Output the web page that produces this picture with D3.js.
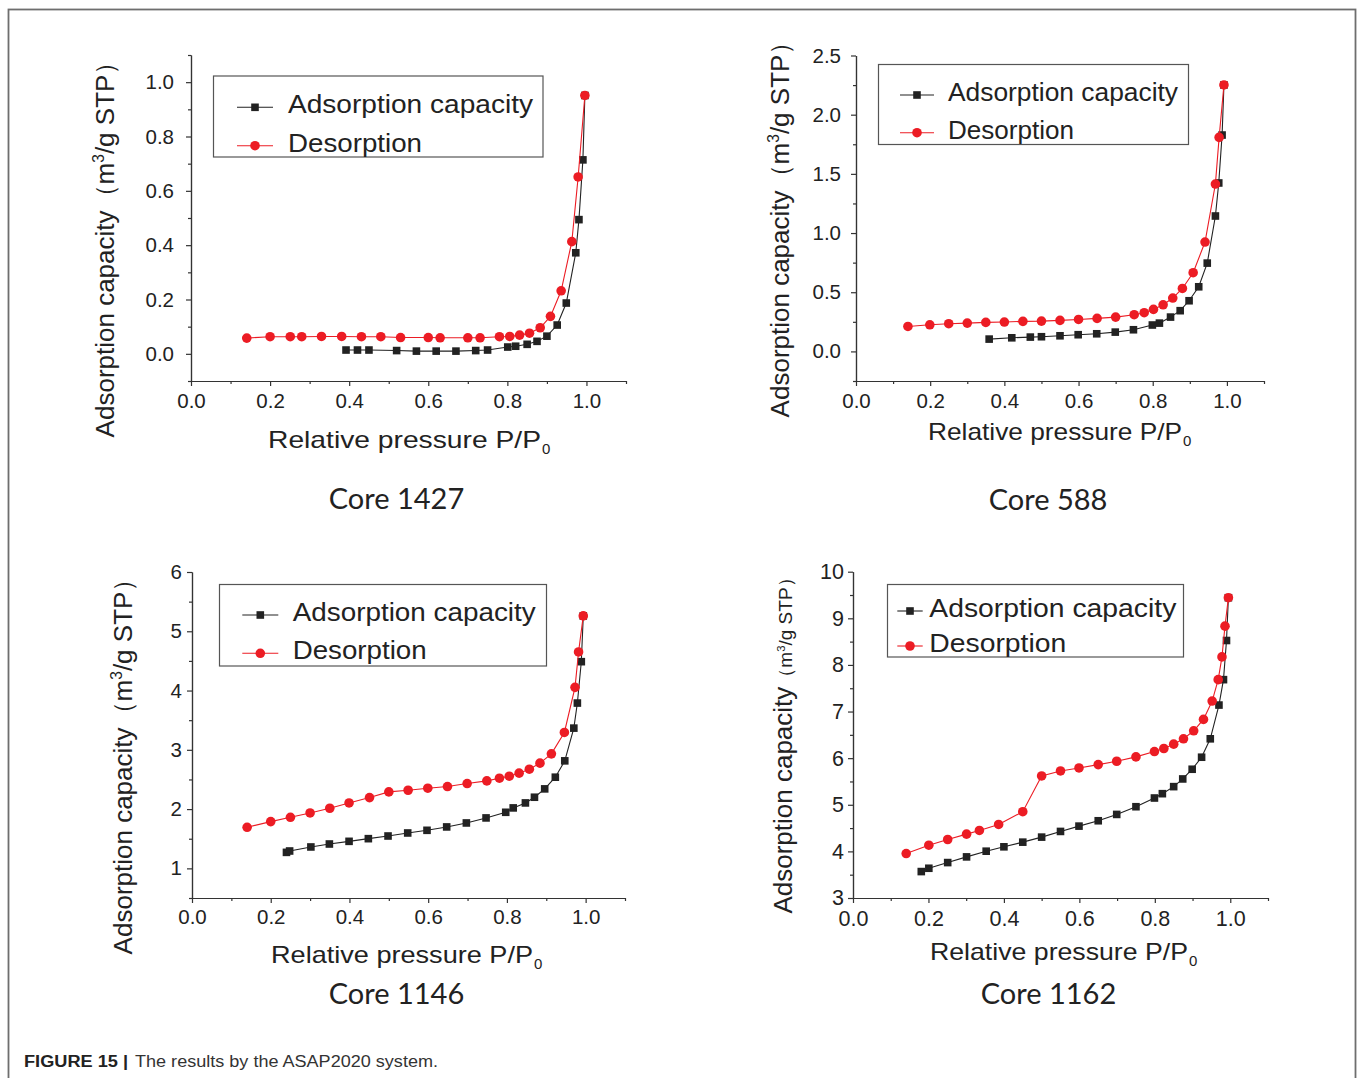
<!DOCTYPE html>
<html lang="en">
<head>
<meta charset="UTF-8">
<title>ASAP2020 isotherms</title>
<script src="https://d3js.org/d3.v7.min.js"></script>
<style>
  body { margin: 0; background: #fff; }
  svg { display: block; font-family: "Liberation Sans", Arial, sans-serif; }
  .axis path, .axis line { stroke: #333; stroke-width: 1.2px; }
  .axis text { fill: #222; font-family: "Liberation Sans", Arial, sans-serif; }
</style>
</head>
<body>
<svg width="1357" height="1078"></svg>
<script>
// values: relative pressure P/P0 and capacity (m3/g STP)
const seriesNames = ["Adsorption capacity", "Desorption"];
const titles = ["Core 1427", "Core 588", "Core 1146", "Core 1162"];

const pressureTicks = [0, 0.2, 0.4, 0.6, 0.8, 1.0];
const pressureMinor = [0.1, 0.3, 0.5, 0.7, 0.9, 1.1];

const core1427Ticks = [0, 0.2, 0.4, 0.6, 0.8, 1.0];
const core1427Minor = [-0.1, 0.1, 0.3, 0.5, 0.7, 0.9, 1.1];
const core588Ticks = [0, 0.5, 1.0, 1.5, 2.0, 2.5];
const core588Minor = [-0.25, 0.25, 0.75, 1.25, 1.75, 2.25];
const core1146Ticks = [1, 2, 3, 4, 5, 6];
const core1146Minor = [0.5, 1.5, 2.5, 3.5, 4.5, 5.5];
const core1162Ticks = [3, 4, 5, 6, 7, 8, 9, 10];
const core1162Minor = [3.5, 4.5, 5.5, 6.5, 7.5, 8.5, 9.5];

const core1427AdsP = [0.392,0.421,0.450,0.520,0.570,0.620,0.670,0.720,0.750,0.801,0.821,0.850,0.875,0.900,0.926,0.949,0.973,0.981,0.991,0.996];
const core1427AdsV = [0.014,0.014,0.014,0.012,0.010,0.010,0.010,0.012,0.014,0.025,0.028,0.035,0.046,0.065,0.106,0.187,0.372,0.494,0.714,0.951];
const core1427DesP = [0.141,0.200,0.251,0.280,0.330,0.381,0.431,0.480,0.530,0.600,0.630,0.700,0.731,0.780,0.806,0.831,0.856,0.883,0.909,0.936,0.963,0.979,0.996];
const core1427DesV = [0.058,0.063,0.063,0.063,0.064,0.064,0.063,0.063,0.060,0.060,0.059,0.059,0.059,0.063,0.064,0.069,0.076,0.096,0.138,0.232,0.413,0.651,0.951];

const core588AdsP = [0.359,0.420,0.470,0.500,0.550,0.599,0.649,0.699,0.748,0.799,0.818,0.848,0.874,0.898,0.924,0.947,0.969,0.978,0.987,0.992];
const core588AdsV = [0.104,0.115,0.121,0.124,0.132,0.141,0.149,0.163,0.183,0.223,0.239,0.290,0.344,0.428,0.546,0.746,1.144,1.423,1.828,2.251];
const core588DesP = [0.140,0.199,0.250,0.300,0.350,0.400,0.450,0.500,0.550,0.600,0.650,0.700,0.750,0.777,0.802,0.828,0.854,0.880,0.909,0.941,0.969,0.979,0.992];
const core588DesV = [0.211,0.225,0.234,0.239,0.245,0.248,0.254,0.256,0.262,0.270,0.279,0.290,0.310,0.327,0.355,0.394,0.451,0.532,0.665,0.924,1.414,1.808,2.251];

const core1146AdsP = [0.240,0.248,0.302,0.349,0.399,0.448,0.498,0.548,0.597,0.647,0.697,0.747,0.797,0.816,0.847,0.870,0.896,0.923,0.947,0.970,0.979,0.989,0.994];
const core1146AdsV = [1.270,1.293,1.361,1.411,1.456,1.501,1.546,1.597,1.642,1.699,1.766,1.851,1.946,2.020,2.104,2.200,2.341,2.538,2.814,3.366,3.789,4.487,5.259];
const core1146DesP = [0.140,0.200,0.250,0.300,0.350,0.399,0.451,0.500,0.549,0.599,0.649,0.699,0.749,0.781,0.806,0.831,0.857,0.884,0.913,0.946,0.973,0.982,0.994];
const core1146DesV = [1.693,1.789,1.862,1.935,2.014,2.104,2.194,2.290,2.318,2.352,2.380,2.431,2.476,2.521,2.555,2.606,2.673,2.775,2.932,3.293,4.054,4.651,5.259];

const core1162AdsP = [0.181,0.201,0.251,0.301,0.353,0.400,0.450,0.500,0.550,0.599,0.650,0.699,0.750,0.799,0.820,0.850,0.874,0.899,0.924,0.947,0.970,0.982,0.990,0.995];
const core1162AdsV = [3.567,3.638,3.760,3.882,4.004,4.098,4.198,4.306,4.428,4.542,4.657,4.793,4.958,5.145,5.238,5.389,5.554,5.762,6.020,6.415,7.139,7.684,8.524,9.442];
const core1162DesP = [0.141,0.201,0.251,0.301,0.335,0.386,0.450,0.500,0.550,0.599,0.650,0.699,0.750,0.799,0.824,0.850,0.876,0.903,0.929,0.952,0.968,0.978,0.986,0.995];
const core1162DesV = [3.954,4.133,4.255,4.370,4.449,4.578,4.851,5.618,5.726,5.790,5.862,5.934,6.027,6.142,6.207,6.300,6.415,6.587,6.831,7.225,7.684,8.172,8.832,9.442];

const black = "#222", red = "#ec1c24";

// layout of the four sub plots (pixel positions of the original figure)
const panels = [
  { title: titles[0], x0: 191, x1: 626, y0: 381, y1: 55, yDom: [-0.1, 1.1], yTicks: core1427Ticks, yMinor: core1427Minor, fmt: ".1f",
    ads: [core1427AdsP, core1427AdsV], des: [core1427DesP, core1427DesV], tickFont: 20.5, yLabGap: 17, xLabBase: 408,
    yLab: { x: 114, y: 243, small: false }, xLab: { x: 268, y: 448, len: 273 }, titleY: 509,
    leg: { x: 213.5, y: 76, w: 329.5, h: 81, r1: 107.3, r2: 145.7, l0: 237, l1: 273, tx: 288, len: [245, 134] } },
  { title: titles[1], x0: 856, x1: 1264, y0: 381, y1: 55.5, yDom: [-0.25, 2.5], yTicks: core588Ticks, yMinor: core588Minor, fmt: ".1f",
    ads: [core588AdsP, core588AdsV], des: [core588DesP, core588DesV], tickFont: 20.5, yLabGap: 15, xLabBase: 408,
    yLab: { x: 789, y: 223, small: false }, xLab: { x: 928, y: 440, len: 254 }, titleY: 510,
    leg: { x: 878.5, y: 64.5, w: 310, h: 80, r1: 95, r2: 132.7, l0: 900, l1: 934, tx: 948, len: [230, 126] } },
  { title: titles[2], x0: 192, x1: 625, y0: 898, y1: 572, yDom: [0.5, 6], yTicks: core1146Ticks, yMinor: core1146Minor, fmt: "d",
    ads: [core1146AdsP, core1146AdsV], des: [core1146DesP, core1146DesV], tickFont: 20.5, yLabGap: 10, xLabBase: 924,
    yLab: { x: 132, y: 760, small: false }, xLab: { x: 271, y: 963, len: 262 }, titleY: 1004,
    leg: { x: 219.5, y: 584.5, w: 327, h: 81.5, r1: 615, r2: 653.3, l0: 242.3, l1: 278.3, tx: 292.7, len: [243, 134] } },
  { title: titles[3], x0: 853, x1: 1268, y0: 898, y1: 571.7, yDom: [3, 10], yTicks: core1162Ticks, yMinor: core1162Minor, fmt: "d",
    ads: [core1162AdsP, core1162AdsV], des: [core1162DesP, core1162DesV], tickFont: 21.5, yLabGap: 9, xLabBase: 926,
    yLab: { x: 792, y: 741, small: true }, xLab: { x: 930, y: 960, len: 258 }, titleY: 1004,
    leg: { x: 887.5, y: 584.5, w: 296, h: 72.5, r1: 611, r2: 646, l0: 897.3, l1: 922.7, tx: 929.3, len: [247, 137] } }
];

const svg = d3.select("svg");

// outer frame and caption
svg.append("rect")
  .attr("x", 8.5).attr("y", 9.5).attr("width", 1347).attr("height", 1100)
  .attr("fill", "none").attr("stroke", "#6e6e6e").attr("stroke-width", 1.8);

svg.append("text").attr("x", 24).attr("y", 1067)
  .attr("font-size", 16).attr("font-weight", "bold").attr("fill", "#222")
  .attr("textLength", 104).attr("lengthAdjust", "spacingAndGlyphs")
  .text("FIGURE 15 |");
svg.append("text").attr("x", 135).attr("y", 1067)
  .attr("font-size", 16).attr("fill", "#333")
  .attr("textLength", 303).attr("lengthAdjust", "spacingAndGlyphs")
  .text("The results by the ASAP2020 system.");

panels.forEach(p => {
  const x = d3.scaleLinear().domain([0, 1.1]).range([p.x0, p.x1]);
  const y = d3.scaleLinear().domain(p.yDom).range([p.y0, p.y1]);
  const g = svg.append("g");

  // axes: major ticks with labels, minor ticks without
  g.append("g").attr("class", "axis")
    .attr("transform", "translate(0," + p.y0 + ")")
    .call(d3.axisBottom(x).tickValues(pressureTicks).tickFormat(d3.format(".1f")).tickSize(5).tickSizeOuter(0).tickPadding(7))
    .call(a => a.selectAll("text").attr("font-size", p.tickFont).attr("dy", null).attr("y", p.xLabBase - p.y0));
  g.append("g").attr("class", "axis")
    .attr("transform", "translate(0," + p.y0 + ")")
    .call(d3.axisBottom(x).tickValues(pressureMinor).tickFormat("").tickSize(3).tickSizeOuter(0));

  g.append("g").attr("class", "axis")
    .attr("transform", "translate(" + p.x0 + ",0)")
    .call(d3.axisLeft(y).tickValues(p.yTicks).tickFormat(d3.format(p.fmt)).tickSize(5).tickSizeOuter(0).tickPadding(p.yLabGap - 5))
    .call(a => a.selectAll("text").attr("font-size", p.tickFont));
  g.append("g").attr("class", "axis")
    .attr("transform", "translate(" + p.x0 + ",0)")
    .call(d3.axisLeft(y).tickValues(p.yMinor).tickFormat("").tickSize(3).tickSizeOuter(0));

  // axis titles
  g.append("text").attr("x", p.xLab.x).attr("y", p.xLab.y)
    .attr("font-size", 24).attr("fill", "#222")
    .attr("textLength", p.xLab.len).attr("lengthAdjust", "spacingAndGlyphs")
    .text("Relative pressure P/P");
  g.append("text").attr("x", p.xLab.x + p.xLab.len + 1).attr("y", p.xLab.y + 6)
    .attr("font-size", 15).attr("fill", "#222").text("0");

  const yl = g.append("text")
    .attr("transform", "translate(" + p.yLab.x + "," + p.yLab.y + ") rotate(-90)")
    .attr("text-anchor", "middle").attr("font-size", 26).attr("fill", "#222");
  yl.append("tspan").text("Adsorption capacity");
  const unit = p.yLab.small ? 19 : 26;
  yl.append("tspan").attr("font-size", unit).text("（m");
  yl.append("tspan").attr("font-size", unit * 0.6).attr("dy", -unit * 0.38).text("3");
  yl.append("tspan").attr("font-size", unit).attr("dy", unit * 0.38).text("/g STP）");

  // sub plot title
  g.append("text").attr("x", (p.x0 + p.x1) / 2 - 12).attr("y", p.titleY)
    .attr("text-anchor", "middle").attr("font-family", "Lato, 'Open Sans', sans-serif")
    .attr("font-size", 29).attr("fill", "#222").text(p.title);

  // series
  const series = [
    { pts: d3.zip(p.ads[0], p.ads[1]), color: black, shape: "square" },
    { pts: d3.zip(p.des[0], p.des[1]), color: red, shape: "circle" }
  ];
  const line = d3.line().x(d => x(d[0])).y(d => y(d[1]));
  series.forEach(s => {
    g.append("path").attr("d", line(s.pts))
      .attr("fill", "none").attr("stroke", s.color).attr("stroke-width", 1.1);
    if (s.shape === "square") {
      g.selectAll(null).data(s.pts).enter().append("rect")
        .attr("x", d => x(d[0]) - 3.8).attr("y", d => y(d[1]) - 3.8)
        .attr("width", 7.6).attr("height", 7.6).attr("fill", s.color);
    } else {
      g.selectAll(null).data(s.pts).enter().append("circle")
        .attr("cx", d => x(d[0])).attr("cy", d => y(d[1]))
        .attr("r", 4.8).attr("fill", s.color);
    }
  });

  // legend
  const L = p.leg;
  g.append("rect").attr("x", L.x).attr("y", L.y).attr("width", L.w).attr("height", L.h)
    .attr("fill", "#fff").attr("stroke", "#555").attr("stroke-width", 1.2);
  [L.r1, L.r2].forEach((ry, i) => {
    const c = i === 0 ? black : red;
    const mx = (L.l0 + L.l1) / 2;
    g.append("line").attr("x1", L.l0).attr("x2", L.l1).attr("y1", ry).attr("y2", ry)
      .attr("stroke", c).attr("stroke-width", 1.1);
    if (i === 0) {
      g.append("rect").attr("x", mx - 3.8).attr("y", ry - 3.8).attr("width", 7.6).attr("height", 7.6).attr("fill", c);
    } else {
      g.append("circle").attr("cx", mx).attr("cy", ry).attr("r", 4.8).attr("fill", c);
    }
    g.append("text").attr("x", L.tx).attr("y", ry + 6)
      .attr("font-size", 25).attr("fill", "#222")
      .attr("textLength", L.len[i]).attr("lengthAdjust", "spacingAndGlyphs")
      .text(seriesNames[i]);
  });
});
</script>
</body>
</html>
